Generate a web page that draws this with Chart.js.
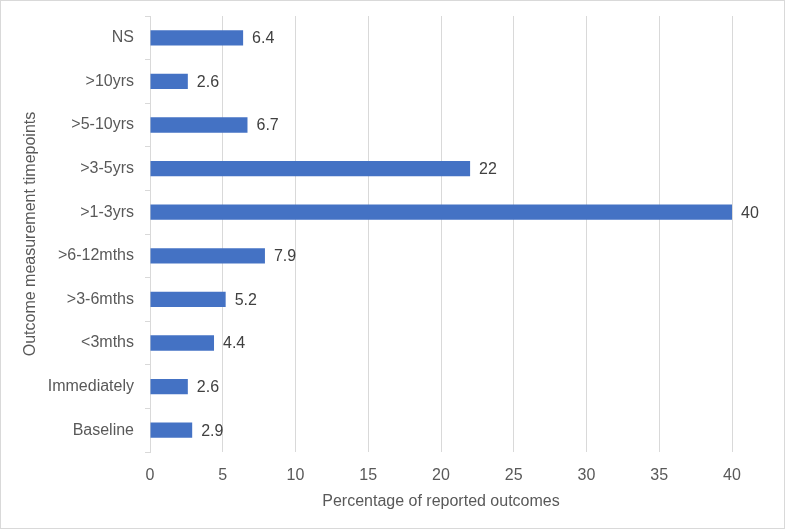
<!DOCTYPE html>
<html>
<head>
<meta charset="utf-8">
<script src="https://cdn.jsdelivr.net/npm/chart.js@4"></script>
<style>
  html, body { margin: 0; padding: 0; background: #fff; }
  canvas { display: block; }
</style>
</head>
<body>
<canvas id="timepointChart" width="787" height="530"></canvas>
<script>
// data
const timepoints = ['NS', '>10yrs', '>5-10yrs', '>3-5yrs', '>1-3yrs', '>6-12mths', '>3-6mths', '<3mths', 'Immediately', 'Baseline'];
const percentages = [6.4, 2.6, 6.7, 22, 40, 7.9, 5.2, 4.4, 2.6, 2.9];
const xTicks = [0, 5, 10, 15, 20, 25, 30, 35, 40];

const FONT = '"Liberation Sans", Arial, sans-serif';
const GRID = '#d9d9d9';
const TEXT = '#595959';

// white background + thin grey frame like the office chart
const framePlugin = {
  id: 'frame',
  beforeDraw(chart) {
    const c = chart.ctx;
    c.save();
    c.fillStyle = '#fff';
    c.fillRect(0, 0, chart.width, chart.height);
    c.strokeStyle = GRID;
    c.lineWidth = 1;
    c.strokeRect(0.5, 0.5, 784, 528);
    c.restore();
  }
};

// value labels just past the end of each bar
const valueLabels = {
  id: 'valueLabels',
  afterDatasetsDraw(chart) {
    const c = chart.ctx;
    const meta = chart.getDatasetMeta(0);
    c.save();
    c.font = '16px ' + FONT;
    c.fillStyle = '#404040';
    c.textAlign = 'left';
    c.textBaseline = 'middle';
    meta.data.forEach((bar, i) => {
      c.fillText(String(percentages[i]), bar.x + 9, bar.y + 1);
    });
    c.restore();
  }
};

new Chart(document.getElementById('timepointChart'), {
  type: 'bar',
  data: {
    labels: timepoints,
    datasets: [{
      data: percentages,
      backgroundColor: '#4472C4',
      borderWidth: 0,
      barPercentage: 0.35,
      categoryPercentage: 1
    }]
  },
  options: {
    indexAxis: 'y',
    responsive: false,
    animation: false,
    layout: { padding: { top: 16, right: 55, bottom: 0, left: 0 } },
    plugins: {
      legend: { display: false },
      tooltip: { enabled: false }
    },
    scales: {
      x: {
        min: 0,
        max: 40,
        afterBuildTicks: (scale) => { scale.ticks = xTicks.map(v => ({ value: v })); },
        afterFit: (scale) => { scale.height = 78; scale.paddingLeft = 0; scale.paddingRight = 0; },
        grid: { color: GRID, drawTicks: false },
        border: { display: false },
        ticks: { color: TEXT, font: { family: FONT, size: 16 }, padding: 14 },
        title: {
          display: true,
          text: 'Percentage of reported outcomes',
          color: TEXT,
          font: { family: FONT, size: 16 },
          padding: { top: 4, bottom: 19 }
        }
      },
      y: {
        afterFit: (scale) => { scale.width = 150; scale.paddingTop = 0; scale.paddingBottom = 0; },
        grid: { drawOnChartArea: false, drawTicks: true, tickLength: 5, color: GRID, offset: true },
        border: { display: true, color: GRID },
        ticks: { color: TEXT, font: { family: FONT, size: 16 }, padding: 11 },
        title: {
          display: true,
          text: 'Outcome measurement timepoints',
          color: TEXT,
          font: { family: FONT, size: 16 },
          padding: { top: 21, bottom: 0 }
        }
      }
    }
  },
  plugins: [framePlugin, valueLabels]
});
</script>
</body>
</html>
